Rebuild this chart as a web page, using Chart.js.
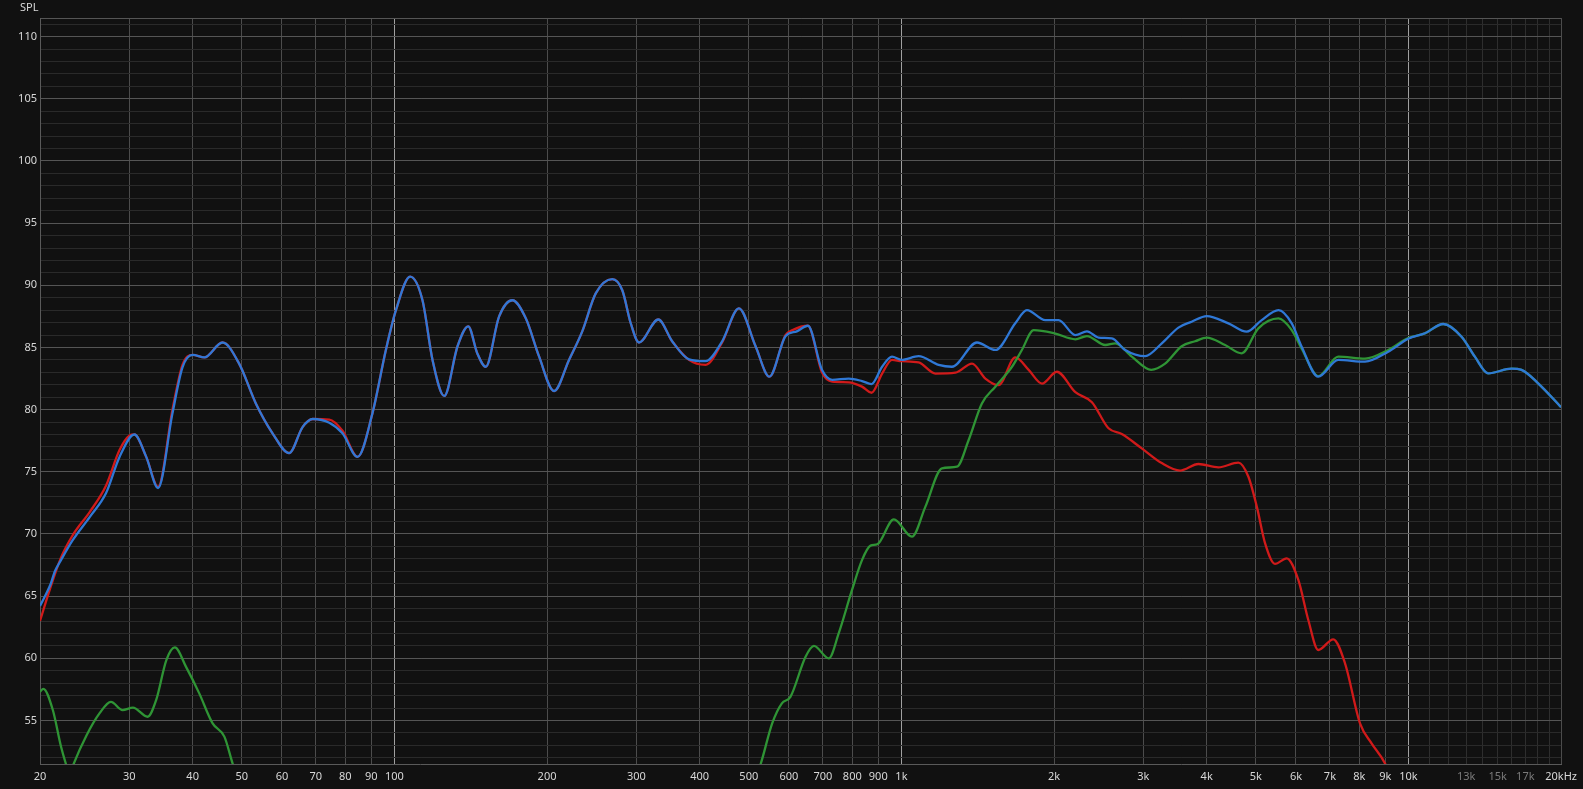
<!DOCTYPE html>
<html>
<head>
<meta charset="utf-8">
<script src="https://cdn.jsdelivr.net/npm/chart.js@4.4.1/dist/chart.umd.min.js"></script>
<style>
html, body { margin: 0; padding: 0; background: #111111; }
canvas { display: block; }
</style>
</head>
<body>
<canvas id="spl" width="1583" height="789"></canvas>
<script>
// tick marks on the frequency axis
const xTickValues = [20, 30, 40, 50, 60, 70, 80, 90, 100, 200, 300, 400, 500, 600, 700, 800, 900,
    1000, 2000, 3000, 4000, 5000, 6000, 7000, 8000, 9000, 10000,
    11000, 12000, 13000, 14000, 15000, 16000, 17000, 18000, 19000, 20000];
const xTickLabels = ['20', '30', '40', '50', '60', '70', '80', '90', '100', '200', '300', '400', '500', '600', '700', '800', '900',
    '1k', '2k', '3k', '4k', '5k', '6k', '7k', '8k', '9k', '10k',
    '', '', '13k', '', '15k', '', '17k', '', '', '20kHz'];
const dimLabels = ['13k', '15k', '17k'];

// blue trace (sum)
const blueFreq = [20, 21, 21.4, 22, 23.2, 25.1, 27, 28.7, 30.7, 32.4, 34.2, 36.5, 38.2, 40, 42.2, 45.8, 49.4, 53.3, 57.5, 62, 65.9, 69, 74.4, 79, 84.6, 90.5, 96.2, 100.7,
    107.4, 113.6, 118.9, 125.4, 133.2, 139.8, 145.8, 151.4, 160.9, 170.8, 181.6, 192.8, 206.5, 221, 234.7, 249.5, 269, 281.5, 292.5, 303.6, 331.5, 353, 381, 410.9, 443, 478, 515.6, 549, 590.6, 622, 654, 697, 730, 787, 836, 873, 916, 958,
    1000, 1081, 1184, 1258, 1409, 1532, 1677, 1768, 1922, 2041, 2203, 2322, 2448, 2600, 2762, 3025, 3262, 3518, 3736, 4000, 4414, 4797, 5135, 5541, 5885, 6157, 6638, 7270, 8208, 9121,
    9990, 10777, 11710, 12726, 13518, 14363, 15963, 16706, 18018, 20000];
const blueSpl = [64.2, 66.0, 67.0, 67.9, 69.5, 71.4, 73.3, 76.2, 78.0, 76.2, 73.7, 79.7, 83.4, 84.4, 84.2, 85.4, 83.7, 80.5, 78.1, 76.5, 78.6, 79.25, 78.95, 78.1, 76.2, 79.7, 84.8, 88.0,
    90.7, 88.8, 84.0, 81.1, 85.1, 86.7, 84.5, 83.45, 87.5, 88.8, 87.35, 84.3, 81.5, 84.0, 86.3, 89.35, 90.5, 89.6, 86.95, 85.4, 87.25, 85.5, 84.05, 83.9, 85.5, 88.15, 85.1, 82.65, 85.9, 86.3, 86.75, 83.2, 82.4, 82.5, 82.3, 82.06, 83.45, 84.26,
    84.0, 84.3, 83.6, 83.45, 85.4, 84.8, 86.95, 88.0, 87.2, 87.2, 86.0, 86.3, 85.8, 85.74, 84.8, 84.3, 85.33, 86.6, 87.07, 87.53, 86.94, 86.27, 87.2, 88.0, 86.94, 85.06, 82.65, 84.0, 83.86, 84.66,
    85.7, 86.14, 86.89, 85.87, 84.26, 82.92, 83.3, 83.2, 82.12, 80.2];

// red trace (woofer)
const redFreq = [20, 20.9, 22, 23.2, 25.1, 27, 28.7, 30, 30.7, 32.4, 34.2, 36.5, 38.2, 40, 42.2, 45.8, 49.4, 53.3, 57.5, 62, 65.9, 69, 74.4, 79, 84.6, 90.5, 96.2, 100.7,
    107.4, 113.6, 118.9, 125.4, 133.2, 139.8, 145.8, 151.4, 160.9, 170.8, 181.6, 192.8, 206.5, 221, 234.7, 249.5, 269, 281.5, 292.5, 303.6, 331.5, 353, 381, 410.9, 443, 478, 515.6, 549, 590.6, 610, 654, 697, 730, 787, 836, 873, 916, 958,
    1000, 1081, 1167, 1278, 1378, 1464, 1555, 1677, 1782, 1893, 2026, 2203, 2375, 2561, 2720, 2978, 3262, 3545, 3852, 4219, 4619, 4834, 5022, 5215, 5455, 5750, 6064, 6345, 6638, 7106, 7496, 8024, 8457, 8985, 9300];
const redSpl = [63.0, 65.5, 68.1, 69.9, 71.8, 73.9, 76.75, 77.9, 78.0, 76.2, 73.8, 80.0, 83.6, 84.4, 84.2, 85.4, 83.7, 80.5, 78.1, 76.5, 78.6, 79.25, 79.2, 78.3, 76.2, 79.7, 84.8, 88.0,
    90.7, 88.8, 84.0, 81.1, 85.1, 86.7, 84.5, 83.45, 87.5, 88.8, 87.35, 84.3, 81.5, 84.0, 86.3, 89.35, 90.5, 89.6, 86.95, 85.4, 87.25, 85.5, 84.0, 83.6, 85.4, 88.15, 85.1, 82.65, 86.0, 86.4, 86.75, 83.0, 82.25, 82.2, 81.85, 81.36, 82.9, 84.0,
    83.9, 83.8, 82.9, 82.97, 83.7, 82.5, 81.97, 84.2, 83.2, 82.1, 83.05, 81.4, 80.6, 78.5, 78.04, 76.89, 75.7, 75.1, 75.63, 75.36, 75.74, 74.6, 72.2, 69.25, 67.6, 68.04, 66.3, 63.08, 60.67, 61.53, 59.6, 54.77, 53.16, 51.56, 50.0];

// green trace (tweeter)
const greenFreq = [20, 20.3, 21.2, 22, 22.5, 22.9, 23.3, 24.7, 26.2, 27.6, 29.1, 30.5, 32.6, 33.9, 35.5, 36.9, 38.8, 41.2, 43.8, 46.2, 48, 50, 60, 100, 200, 350, 450, 510,
    527.6, 556, 581, 604, 647, 672, 719, 752, 799, 836, 869, 896, 966, 1049, 1115, 1202, 1287, 1357, 1441, 1532, 1652, 1728, 1823, 2004, 2203, 2322, 2523, 2641, 2847, 3109, 3311, 3571, 3795,
    4000, 4348, 4689, 5057, 5541, 5885, 6157, 6638, 7270, 8208, 9121, 9990, 10777, 11710, 12726, 13518, 14363, 15963, 16706, 18018, 20000];
const greenSpl = [57.3, 57.55, 55.84, 52.9, 51.5, 50.6, 51.5, 53.8, 55.57, 56.5, 55.84, 56.03, 55.3, 56.65, 59.86, 60.88, 59.33, 57.2, 54.77, 53.7, 51.5, 49.5, 45, 40, 38, 41, 46, 50,
    51.5, 54.77, 56.38, 56.9, 60.13, 61.0, 60.0, 62.0, 65.5, 67.9, 69.06, 69.17, 71.18, 69.78, 72.2, 75.28, 75.41, 77.56, 80.5, 81.85, 83.45, 84.8, 86.4, 86.14, 85.66, 85.92, 85.2, 85.33, 84.26, 83.2, 83.7, 85.1, 85.5,
    85.8, 85.2, 84.53, 86.54, 87.34, 86.4, 84.9, 82.7, 84.26, 84.1, 84.8, 85.75, 86.14, 86.89, 85.87, 84.26, 82.92, 83.3, 83.2, 82.12, 80.2];

function puntos(freq, spl) {
    return freq.map((f, i) => ({ x: f, y: spl[i] }));
}

function serie(freq, spl, color) {
    return {
        data: puntos(freq, spl),
        borderColor: color,
        borderWidth: 2.3,
        pointRadius: 0,
        fill: false,
        cubicInterpolationMode: 'monotone',
        clip: 0
    };
}

const fuente = { family: 'Noto Sans', size: 11 };

// label "SPL" in the upper left corner
const etiquetaSpl = {
    id: 'etiquetaSpl',
    afterDraw(chart) {
        const c = chart.ctx;
        c.save();
        c.font = '11px "Noto Sans"';
        c.fillStyle = '#d8d8d8';
        c.textBaseline = 'middle';
        c.textAlign = 'left';
        c.fillText('SPL', 20, 8);
        c.restore();
    }
};

new Chart(document.getElementById('spl').getContext('2d'), {
    type: 'line',
    data: {
        datasets: [
            serie(blueFreq, blueSpl, '#2f78d6'),
            serie(greenFreq, greenSpl, '#2f9435'),
            serie(redFreq, redSpl, '#d01a1a')
        ]
    },
    options: {
        responsive: false,
        animation: false,
        devicePixelRatio: 1,
        layout: { padding: { top: 18, right: 20, left: 0, bottom: 0 } },
        plugins: { legend: { display: false }, tooltip: { enabled: false } },
        scales: {
            x: {
                type: 'logarithmic',
                min: 20,
                max: 20000,
                afterBuildTicks: (scale) => {
                    scale.ticks = xTickValues.map(v => ({ value: v }));
                },
                afterFit: (scale) => { scale.height = 25; },
                ticks: {
                    autoSkip: false,
                    maxRotation: 0,
                    minRotation: 0,
                    padding: 6,
                    font: fuente,
                    color: (ctx) => {
                        const lbl = xTickLabels[xTickValues.indexOf(ctx.tick.value)];
                        return dimLabels.includes(lbl) ? '#7a7a7a' : '#d8d8d8';
                    },
                    callback: (value) => xTickLabels[xTickValues.indexOf(value)]
                },
                grid: {
                    drawTicks: false,
                    color: (ctx) => {
                        const v = ctx.tick.value;
                        if (v === 100 || v === 1000 || v === 10000) return '#a0a0a0';
                        if (v > 10000 && v < 20000) return '#2e2e2e';
                        return '#4c4c4c';
                    }
                },
                border: { display: true, color: '#5a5a5a' }
            },
            y: {
                type: 'linear',
                z: -1, // horizontal grid under the vertical one
                min: 51.5,
                max: 111.5,
                afterBuildTicks: (scale) => {
                    const t = [];
                    for (let v = 52; v <= 111; v++) t.push({ value: v });
                    t.push({ value: 111.5 });
                    scale.ticks = t;
                },
                afterFit: (scale) => { scale.width = 40; },
                ticks: {
                    autoSkip: false,
                    padding: 3,
                    font: fuente,
                    color: '#d8d8d8',
                    callback: (value) => (value % 5 === 0 ? String(value) : '')
                },
                grid: {
                    drawTicks: false,
                    color: (ctx) => {
                        const v = ctx.tick.value;
                        if (v === 111.5 || v % 5 === 0) return '#555555';
                        return '#2a2a2a';
                    }
                },
                border: { display: true, color: '#5a5a5a' }
            }
        }
    },
    plugins: [etiquetaSpl]
});
</script>
</body>
</html>
